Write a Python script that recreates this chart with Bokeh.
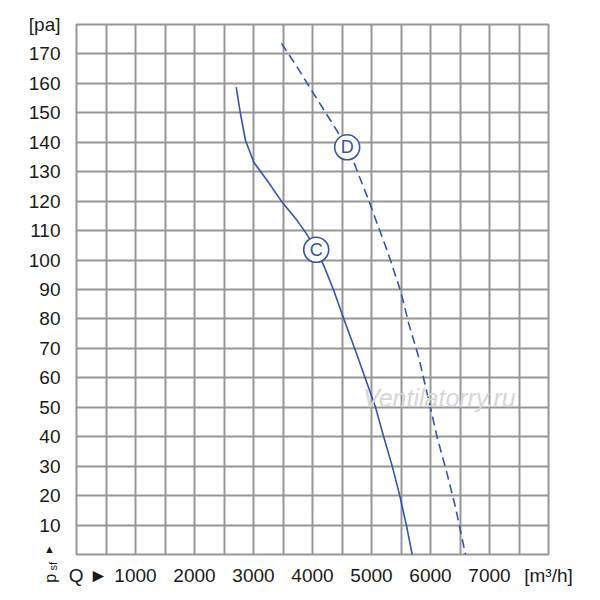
from bokeh.plotting import figure
from bokeh.models import FixedTicker, Label, ColumnDataSource
from bokeh.core.properties import value
from bokeh.embed import file_html
from bokeh.resources import INLINE

# Curve C (solid)
c_q = [2707, 2780, 2865, 3005, 3232, 3487, 3741, 3899, 4063, 4192, 4362, 4531, 4729, 4899, 5068, 5209, 5350, 5480, 5593, 5690]
c_p = [158.7, 149.6, 140.6, 133.2, 127.0, 119.6, 113.4, 108.9, 103.5, 98.1, 89.6, 80.0, 69.2, 59.6, 50.0, 39.8, 30.1, 19.9, 9.8, 0.0]
# Curve D (dashed)
d_q = [3475, 3741, 4023, 4306, 4588, 4701, 4842, 4955, 5097, 5266, 5492, 5633, 5802, 5972, 6113, 6283, 6424, 6593]
d_p = [173.6, 165.5, 156.4, 147.4, 138.3, 133.2, 125.9, 120.2, 112.3, 103.2, 89.6, 78.3, 66.9, 52.2, 39.8, 27.3, 16.0, 0.0]

curve_names = ["C", "D"]
marker_q = [4063, 4588]
marker_p = [103.5, 138.3]

x_ticks = [200, 1000, 2000, 3000, 4000, 5000, 6000, 7000, 8000]
x_symbol = "Q ►"
x_unit = "[m³/h]"
y_ticks = [10, 20, 30, 40, 50, 60, 70, 80, 90, 100, 110, 120, 130, 140, 150, 160, 170, 180]
y_unit = "[pa]"
watermark = "Ventilatorry.ru"

BLUE = "#3553b0"
GRID = "#969696"
FONT = "Liberation Sans"
TXT = "#1a1a1a"

p = figure(width=592, height=592, x_range=(0, 8000), y_range=(0, 180),
           output_backend="svg", toolbar_location=None,
           min_border_left=76, min_border_right=44, min_border_top=24, min_border_bottom=38)

p.outline_line_color = GRID
p.outline_line_width = 2

p.xgrid.ticker = FixedTicker(ticks=list(range(0, 8001, 500)))
p.ygrid.ticker = FixedTicker(ticks=list(range(0, 181, 10)))
for g in (p.xgrid, p.ygrid):
    g.grid_line_color = GRID
    g.grid_line_width = 2
    g.grid_line_alpha = 1.0

p.xaxis.ticker = FixedTicker(ticks=x_ticks)
p.yaxis.ticker = FixedTicker(ticks=y_ticks)
p.xaxis.major_label_overrides = {200: x_symbol, 8000: x_unit}
p.yaxis.major_label_overrides = {180: y_unit}
for ax in (p.xaxis, p.yaxis):
    ax.axis_line_color = None
    ax.major_tick_line_color = None
    ax.minor_tick_line_color = None
    ax.major_label_text_font = FONT
    ax.major_label_text_font_size = "19px"
    ax.major_label_text_color = TXT
p.xaxis.major_label_standoff = 4
p.yaxis.major_label_standoff = 10

# watermark
p.add_layout(Label(x=6150, y=53, text=watermark, text_font=FONT,
                   text_font_style="italic", text_font_size="25px",
                   text_color="#d6d6d6", text_align="center", text_baseline="middle"))

p.line(c_q, c_p, line_color=BLUE, line_width=1.6)
p.line(d_q, d_p, line_color=BLUE, line_width=1.6, line_dash="9 5")

src = ColumnDataSource(dict(q=marker_q, p=marker_p, name=curve_names))
p.scatter("q", "p", source=src, size=25, fill_color="white",
          line_color=BLUE, line_width=1.6)
p.text("q", "p", text="name", source=src, text_font=value(FONT),
       text_font_size="18px", text_color=BLUE, text_align="center",
       text_baseline="middle")

# vertical axis symbol: placed in side panels with spare room so it is not
# clipped to the frame; positions are in data units
p.add_layout(Label(x=-441, y=-9.6, text="p",
                   angle=1.5708, text_font=FONT, text_font_size="16px",
                   text_color=TXT, text_align="left", text_baseline="middle"), "right")
p.add_layout(Label(x=-395, y=-5.4, text="sf",
                   angle=1.5708, text_font=FONT, text_font_size="11px",
                   text_color=TXT, text_align="left", text_baseline="middle"), "right")
p.add_layout(Label(x=-458, y=1.9, text="▲",
                   text_font=FONT, text_font_size="11px",
                   text_color=TXT, text_align="center", text_baseline="middle"), "above")

open("out.html", "w").write(file_html(p, INLINE))
